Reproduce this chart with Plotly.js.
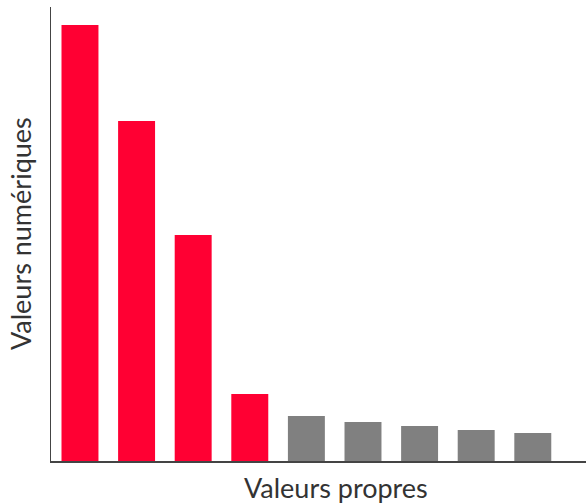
<!DOCTYPE html>
<html>
<head>
<meta charset="utf-8">
<script src="https://cdn.plot.ly/plotly-3.0.1.min.js"></script>
<style>html,body{margin:0;padding:0;background:#fff;}</style>
</head>
<body>
<div id="chart" style="width:586px;height:504px;"></div>
<script>
var categories = ["1", "2", "3", "4", "5", "6", "7", "8", "9"];
var values = [4.36, 3.40, 2.26, 0.67, 0.45, 0.39, 0.35, 0.31, 0.28];
var barColors = ["#FF0033", "#FF0033", "#FF0033", "#FF0033", "#808080", "#808080", "#808080", "#808080", "#808080"];
var xTitle = "Valeurs propres";
var yTitle = "Valeurs numériques";

var trace = {
  type: "bar",
  x: categories.map(function(c, i){ return i; }),
  y: values,
  marker: {color: barColors, line: {width: 0}},
  hoverinfo: "none"
};

var titleFont = {size: 27, color: "#333333", family: "Lato, 'Liberation Sans', sans-serif"};

var layout = {
  width: 586,
  height: 504,
  margin: {l: 51, r: 0, t: 7, b: 43, pad: 0},
  paper_bgcolor: "#ffffff",
  plot_bgcolor: "#ffffff",
  showlegend: false,
  bargap: 0.347,
  font: {family: "Lato, 'Liberation Sans', sans-serif", color: "#333333"},
  xaxis: {
    range: [-0.512, 8.94],
    showticklabels: false,
    ticks: "",
    showgrid: false,
    zeroline: false,
    showline: true,
    linecolor: "#444444",
    linewidth: 1.5
  },
  yaxis: {
    range: [0, 4.54],
    showticklabels: false,
    ticks: "",
    showgrid: false,
    zeroline: false,
    showline: true,
    linecolor: "#444444",
    linewidth: 1.5
  },
  annotations: [
    {text: xTitle, xref: "paper", yref: "paper", x: (335.5 - 51) / 535, y: 0, yshift: -26,
     xanchor: "center", yanchor: "middle", showarrow: false, font: titleFont},
    {text: yTitle, xref: "paper", yref: "paper", x: 0, xshift: -31, y: 0.5,
     xanchor: "center", yanchor: "middle", showarrow: false, textangle: -90, font: titleFont}
  ]
};

Plotly.newPlot("chart", [trace], layout, {displayModeBar: false, staticPlot: true});
</script>
</body>
</html>
